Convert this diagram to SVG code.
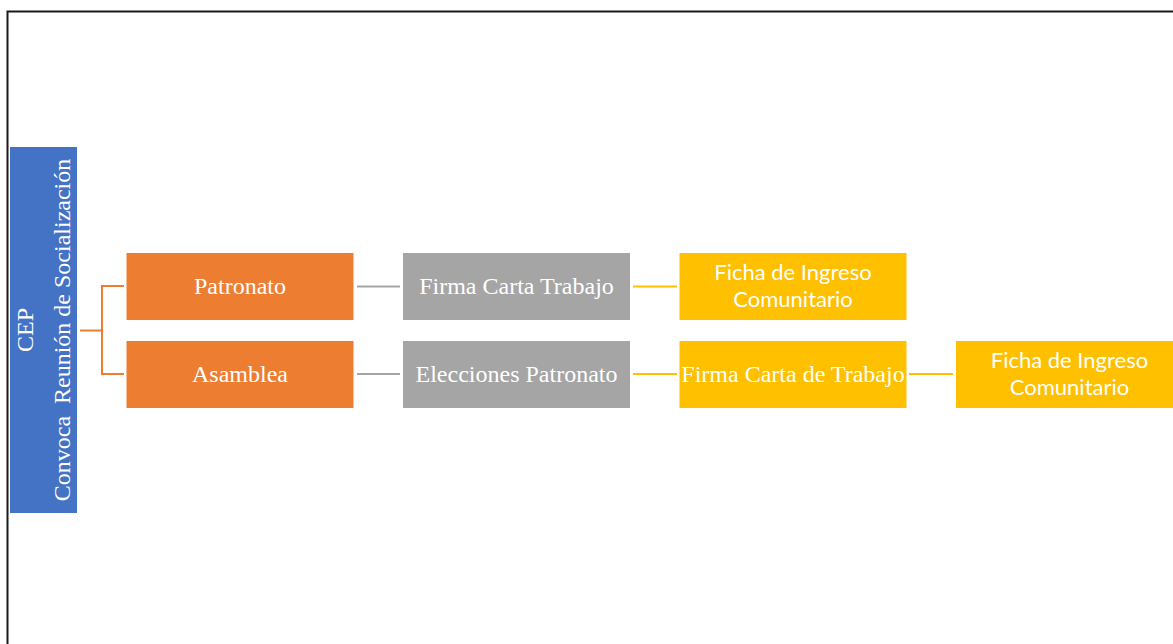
<svg xmlns="http://www.w3.org/2000/svg" width="1173" height="644" viewBox="0 0 1173 644">
  <style>
    .frame { fill: none; stroke: #1a1a1a; stroke-width: 2; }
    .box { stroke: #ffffff; stroke-width: 1; }
    .orange { fill: #ed7d31; }
    .gray { fill: #a5a5a5; }
    .yellow { fill: #ffc000; }
    .blue { fill: #4472c4; }
    .serif { font-family: "Liberation Serif", "Times New Roman", serif; font-size: 24px; fill: #ffffff; text-anchor: middle; }
    .sans { font-family: Lato, "Liberation Sans", sans-serif; font-size: 22px; fill: #ffffff; text-anchor: middle; }
    .link { fill: none; stroke-width: 2; }
    .l-orange { stroke: #ed7d31; }
    .l-gray { stroke: #a5a5a5; }
    .l-yellow { stroke: #ffc000; }
  </style>

  <rect width="1173" height="644" fill="#ffffff"/>
  <!-- outer frame: top and left edges only -->
  <path class="frame" d="M7.5 644 V11.5 H1173"/>

  <g id="connectors">
    <path class="link l-orange" d="M80 330.5 H102 M102 286 V374 M101 286 H124 M101 374 H124"/>
    <path class="link l-gray" d="M357 286.5 H400 M357 374 H400"/>
    <path class="link l-yellow" d="M633 286.5 H677 M633 374 H677 M909 374 H953"/>
  </g>

  <g id="root">
    <rect class="blue" x="10" y="147" width="67" height="366"/>
    <text class="serif" transform="translate(33 330) rotate(-90)" x="0" y="0">CEP</text>
    <text class="serif" transform="translate(70 330) rotate(-90)" x="0" y="0" xml:space="preserve">Convoca  Reunión de Socialización</text>
  </g>

  <g id="patronato">
    <rect class="box orange" x="126" y="252.5" width="228" height="68"/>
    <text class="serif" x="240" y="294">Patronato</text>
  </g>
  <g id="asamblea">
    <rect class="box orange" x="126" y="340.5" width="228" height="68"/>
    <text class="serif" x="240" y="382">Asamblea</text>
  </g>

  <g id="firma-carta-trabajo">
    <rect class="box gray" x="402.5" y="252.5" width="228" height="68"/>
    <text class="serif" x="516.5" y="294">Firma Carta Trabajo</text>
  </g>
  <g id="elecciones-patronato">
    <rect class="box gray" x="402.5" y="340.5" width="228" height="68"/>
    <text class="serif" x="516.5" y="382">Elecciones Patronato</text>
  </g>

  <g id="ficha-ingreso-1">
    <rect class="box yellow" x="679" y="252.5" width="228" height="68"/>
    <text class="sans" x="793" y="280">Ficha de Ingreso</text>
    <text class="sans" x="793" y="307">Comunitario</text>
  </g>
  <g id="firma-carta-de-trabajo">
    <rect class="box yellow" x="679" y="340.5" width="228" height="68"/>
    <text class="serif" x="793" y="382">Firma Carta de Trabajo</text>
  </g>
  <g id="ficha-ingreso-2">
    <rect class="box yellow" x="955.5" y="340.5" width="228" height="68"/>
    <text class="sans" x="1069.5" y="368">Ficha de Ingreso</text>
    <text class="sans" x="1069.5" y="395">Comunitario</text>
  </g>
</svg>
